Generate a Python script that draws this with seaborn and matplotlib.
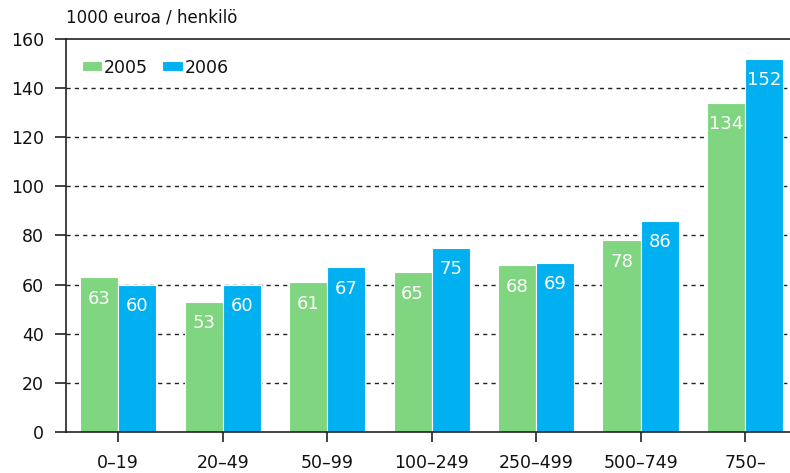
import matplotlib
matplotlib.use("Agg")
import matplotlib.pyplot as plt
import seaborn as sns
import pandas as pd

categories = ["0–19", "20–49", "50–99", "100–249", "250–499", "500–749", "750–"]
values_2005 = [63, 53, 61, 65, 68, 78, 134]
values_2006 = [60, 60, 67, 75, 69, 86, 152]
years = ["2005", "2006"]
y_ticks = [0, 20, 40, 60, 80, 100, 120, 140, 160]

sns.set_style("white")
plt.rcParams['font.family'] = ['DejaVu Sans']
plt.rcParams['text.color'] = '#111111'
plt.rcParams['xtick.color'] = '#111111'
plt.rcParams['ytick.color'] = '#111111'

df = pd.DataFrame({
    "cat": categories * 2,
    "year": [years[0]] * len(categories) + [years[1]] * len(categories),
    "val": values_2005 + values_2006,
})

colors = {"2005": "#80D580", "2006": "#00B0F0"}

fig = plt.figure(figsize=(7.9, 4.73), dpi=100)
ax = fig.add_axes([66 / 790, 41 / 473, (790 - 66) / 790, (432 - 39) / 473])

sns.barplot(data=df, x="cat", y="val", hue="year", palette=colors, width=0.73,
            edgecolor="white", linewidth=0.8, ax=ax, saturation=1, legend=True)

ax.set_ylim(0, 160)
ax.set_xlim(-0.5, 6.43)
ax.set_yticks(y_ticks)
ax.set_yticklabels([str(t) for t in y_ticks], fontsize=12.5)
ax.set_xlabel("")
ax.set_ylabel("")
ax.tick_params(axis="x", labelsize=12.5, length=7, width=1.2, direction="out", pad=9, color="#222222")
ax.tick_params(axis="y", length=8, width=1.2, direction="out", pad=8, color="#222222")
ax.tick_params(left=True, bottom=True)

for t in y_ticks[1:-1]:
    ax.axhline(t, color="#222222", linestyle=(0, (3, 3)), linewidth=1, zorder=0)

for s in ["left", "bottom", "top"]:
    ax.spines[s].set_visible(True)
    ax.spines[s].set_color("#222222")
    ax.spines[s].set_linewidth(1.2)
ax.spines["right"].set_visible(False)

for container in ax.containers:
    ax.bar_label(container, labels=[f"{int(v)}" for v in container.datavalues],
                 padding=-22, color="white", fontsize=13)

leg = ax.legend(loc="upper left", bbox_to_anchor=(0.0, 0.99), ncol=2, frameon=False,
                fontsize=12.5, handlelength=1.2, handleheight=0.5, handletextpad=0.1,
                columnspacing=0.8, borderaxespad=0.5)

fig.text(66 / 790, 1 - 18 / 473, "1000 euroa / henkilö", fontsize=12, va="center", ha="left")

fig.savefig("out.png", dpi=100)
